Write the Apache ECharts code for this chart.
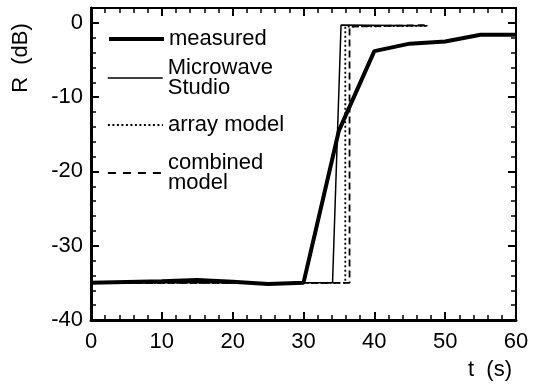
<!DOCTYPE html>
<html>
<head>
<meta charset="utf-8">
<script src="https://cdn.jsdelivr.net/npm/echarts@6/dist/echarts.min.js"></script>
<style>html,body{margin:0;padding:0;background:#fff}#c{width:541px;height:389px}</style>
</head>
<body>
<div id="c"></div>
<script>
// ---- data ----
const seriesNames = ['measured', 'Microwave\nStudio', 'array model', 'combined\nmodel'];
const measured = [[0,-35],[5,-34.9],[10,-34.8],[15,-34.6],[20,-34.85],[25,-35.15],[30,-35],[35,-14.5],[40,-3.8],[45,-2.8],[50,-2.5],[55,-1.6],[60,-1.6]];
const microwaveStudio = [[0,-35],[34.1,-35],[35.3,-0.3],[47.5,-0.4]];
const arrayModel = [[0,-35],[35.9,-35],[35.9,-0.5],[47.5,-0.4]];
const combinedModel = [[0,-35],[36.5,-35],[36.5,-0.5],[47.5,-0.3]];
const xTicks = [0,10,20,30,40,50,60];
const yTicks = [-40,-30,-20,-10,0];

const FONT = 'Liberation Sans, Arial, sans-serif';
const chart = echarts.init(document.getElementById('c'), null, {renderer:'canvas'});

function xAxisCfg(pos, labels) {
  return {
    type:'value', position:pos, min:0, max:60, interval:10,
    axisLine:{show:true, onZero:false, lineStyle:{color:'#000', width: pos==='bottom'?3:2}},
    axisTick:{show:true, inside:true, length:8, lineStyle:{color:'#000', width:2}},
    minorTick:{show:true, splitNumber:5, length:5, lineStyle:{color:'#000', width:1.5}},
    splitLine:{show:false}, minorSplitLine:{show:false},
    axisLabel:{show:labels, margin:11, color:'#000', fontSize:22, fontFamily:FONT,
      formatter: v => xTicks.includes(v) ? String(v) : ''}
  };
}
function yAxisCfg(pos, major, labels) {
  return {
    type:'value', position:pos, min:-40, max:2, interval: major?10:2,
    axisLine:{show:major, onZero:false, lineStyle:{color:'#000', width: pos==='left'?3:2}},
    axisTick:{show:true, inside:true, length: major?8:5, lineStyle:{color:'#000', width: major?2:1.5}},
    splitLine:{show:false},
    axisLabel:{show:labels, margin:8, color:'#000', fontSize:22, fontFamily:FONT,
      formatter: v => yTicks.includes(v) ? String(v) : ''}
  };
}

const styles = [
  {width:4, type:'solid', legendType:'solid'},
  {width:1.5, type:'solid', legendType:'solid'},
  {width:1.8, type:[2,2.5], legendType:[2,2.5]},
  {width:1.8, type:[7,4], legendType:[8,7]}
];
const datasets = [measured, microwaveStudio, arrayModel, combinedModel];
const legendTops = [28, 57, 114, 152];

const series = seriesNames.map((n,i)=>({
  name:n, type:'line', data:datasets[i], xAxisIndex:0, yAxisIndex:0,
  symbol:'none', silent:true, animation:false, z: 10-i,
  lineStyle:{color:'#000', width:styles[i].width, type:styles[i].type},
  itemStyle:{color:'#000'}
}));

const legends = seriesNames.map((n,i)=>({
  data:[n], left:107, top:legendTops[i], padding:0, orient:'vertical',
  itemWidth:55, itemHeight:14,
  itemStyle:{opacity:0, borderWidth:0},
  lineStyle:{color:'#000', width:styles[i].width, type:styles[i].legendType},
  textStyle:{color:'#000', fontSize:22, fontFamily:FONT, lineHeight:20}
}));

chart.setOption({
  animation:false,
  backgroundColor:'#fff',
  grid:{left:91, right:25, top:8, bottom:69, containLabel:false},
  xAxis:[xAxisCfg('bottom', true), xAxisCfg('top', false)],
  yAxis:[yAxisCfg('left', true, true), yAxisCfg('left', false, false), yAxisCfg('right', true, false), yAxisCfg('right', false, false)],
  legend: legends,
  series: series,
  graphic:[
    {type:'text', x:21, y:58, rotation:Math.PI/2,
      style:{text:'R  (dB)', fill:'#000', font:'22px '+FONT, textAlign:'center', textVerticalAlign:'middle'}},
    {type:'text', x:490, y:370,
      style:{text:'t  (s)', fill:'#000', font:'22px '+FONT, textAlign:'center', textVerticalAlign:'middle'}}
  ]
});
</script>
</body>
</html>
